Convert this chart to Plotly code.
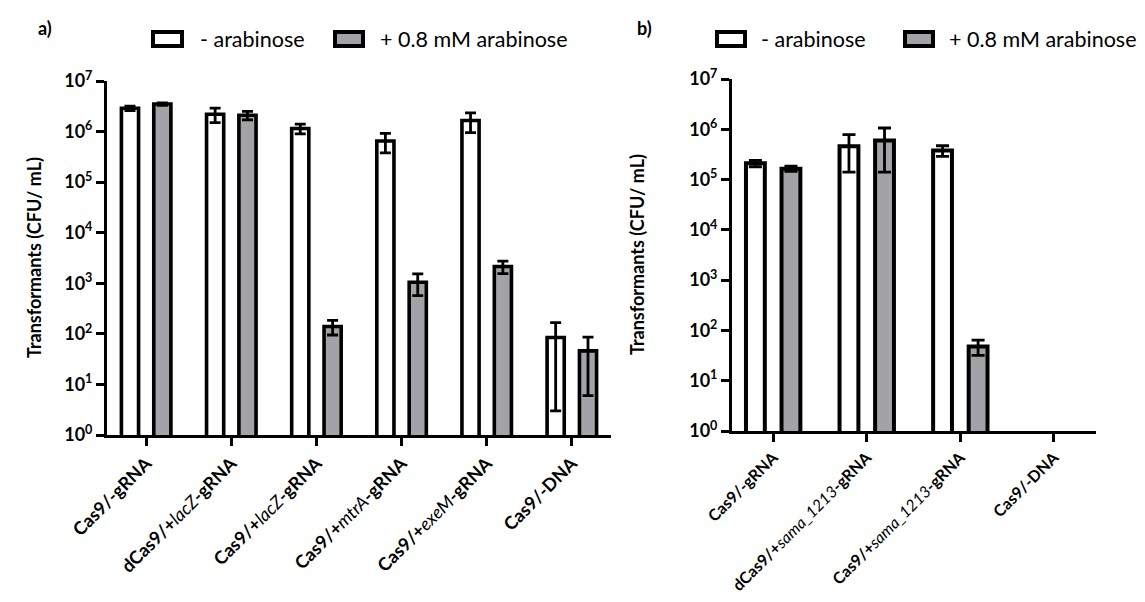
import plotly.graph_objects as go

W, H = 1145, 602

# ---- panel a data (CFU/mL, mean and SD) ----
cats_a = ["Cas9/-gRNA", "dCas9/+lacZ-gRNA", "Cas9/+lacZ-gRNA",
          "Cas9/+mtrA-gRNA", "Cas9/+exeM-gRNA", "Cas9/-DNA"]
labels_a = ["<b>Cas9/-gRNA</b>",
            "<b>dCas9/+</b><i>lacZ</i><b>-gRNA</b>",
            "<b>Cas9/+</b><i>lacZ</i><b>-gRNA</b>",
            "<b>Cas9/+</b><i>mtrA</i><b>-gRNA</b>",
            "<b>Cas9/+</b><i>exeM</i><b>-gRNA</b>",
            "<b>Cas9/-DNA</b>"]
no_ara_a = [2.9e6, 2.2e6, 1.15e6, 6.5e5, 1.65e6, 85]
no_ara_a_sd = [0.3e6, 0.7e6, 0.25e6, 2.7e5, 0.7e6, 82]
ara_a = [3.5e6, 2.1e6, 140, 1050, 2150, 46]
ara_a_sd = [0.2e6, 0.4e6, 45, 480, 600, 40]

# ---- panel b data ----
cats_b = ["Cas9/-gRNA", "dCas9/+sama_1213-gRNA", "Cas9/+sama_1213-gRNA", "Cas9/-DNA"]
labels_b = ["<b>Cas9/-gRNA</b>",
            "<b>dCas9/+</b><i>sama_1213</i><b>-gRNA</b>",
            "<b>Cas9/+</b><i>sama_1213</i><b>-gRNA</b>",
            "<b>Cas9/-DNA</b>"]
no_ara_b = [2.1e5, 4.6e5, 3.8e5, None]
no_ara_b_sd = [0.3e5, 3.2e5, 0.9e5, None]
ara_b = [1.65e5, 6.0e5, 48, None]
ara_b_sd = [0.2e5, 4.6e5, 16, None]

series_names = ["- arabinose", "+ 0.8 mM arabinose"]
decades = [1, 10, 100, 1e3, 1e4, 1e5, 1e6, 1e7]
decade_labels = ["<b>10<sup>%d</sup></b>" % i for i in range(8)]

FONT = "Lato"
GREY = "#a2a2a7"


def px_x(x):
    return x / W


def px_y(y):
    return 1 - y / H


fig = go.Figure()


def add_pair(cats, v1, e1, v2, e2, xa, ya, lw, cap):
    for vals, errs, fill, name in ((v1, e1, "white", series_names[0]),
                                   (v2, e2, GREY, series_names[1])):
        fig.add_trace(go.Bar(
            x=cats, y=vals, name=name, xaxis=xa, yaxis=ya, showlegend=False,
            marker=dict(color=fill, line=dict(color="black", width=lw)),
            error_y=dict(type="data", array=errs, visible=True,
                         color="black", thickness=2.8, width=cap),
        ))


add_pair(cats_a, no_ara_a, no_ara_a_sd, ara_a, ara_a_sd, "x", "y", 3.6, 5.5)
add_pair(cats_b, no_ara_b, no_ara_b_sd, ara_b, ara_b_sd, "x2", "y2", 4, 6.5)

xcommon = dict(type="category", showline=True, linecolor="black", linewidth=3,
               ticks="outside", ticklen=8, tickwidth=2.5, tickcolor="black",
               tickangle=-45, showgrid=False, zeroline=False,
               automargin=False)
ycommon = dict(type="log", range=[0, 7], showline=True, linecolor="black",
               linewidth=3, ticks="outside", ticklen=8, tickwidth=2.5,
               tickcolor="black", tickvals=decades, ticktext=decade_labels,
               showgrid=False, zeroline=False,
               tickfont=dict(family=FONT, size=18, color="black"),
               automargin=False)

fig.update_layout(
    width=W, height=H,
    margin=dict(l=0, r=0, t=0, b=0),
    paper_bgcolor="white", plot_bgcolor="white",
    barmode="group", bargap=0.24, bargroupgap=0.47,
    template="none",
    xaxis=dict(xcommon, domain=[px_x(107), px_x(611)], range=[-0.46, 5.46],
               tickvals=cats_a, ticktext=labels_a, anchor="y",
               tickfont=dict(family=FONT, size=18, color="black")),
    yaxis=dict(ycommon, domain=[px_y(435), px_y(81)], anchor="x"),
    xaxis2=dict(xcommon, domain=[px_x(732), px_x(1096)], range=[-0.44, 3.45],
                tickvals=cats_b, ticktext=labels_b, anchor="y2",
                tickfont=dict(family=FONT, size=16, color="black")),
    yaxis2=dict(ycommon, domain=[px_y(431), px_y(79)], anchor="x2"),
)

annotations = []
shapes = []

# y-axis titles
for tx, ty in ((21, 258), (637, 255)):
    annotations.append(dict(text="<b>Transformants (CFU/ mL)</b>", textangle=-90,
                            x=px_x(tx), y=px_y(ty), xref="paper", yref="paper",
                            showarrow=False,
                            font=dict(family=FONT, size=18, color="black")))

# panel letters
for lx, lab in ((36, "a)"), (635, "b)")):
    annotations.append(dict(text="<b>%s</b>" % lab, x=px_x(lx), y=px_y(15),
                            xref="paper", yref="paper", xanchor="left",
                            showarrow=False,
                            font=dict(family=FONT, size=18, color="black")))

# legends (box + label) above each panel
legend_rows = [
    [(153, 182, 198, "white"), (335, 363, 378, GREY)],
    [(717, 745, 759, "white"), (905, 933, 947, GREY)],
]
for row in legend_rows:
    for (bx0, bx1, tx, fill), name in zip(row, series_names):
        shapes.append(dict(type="rect", xref="paper", yref="paper",
                           x0=px_x(bx0), x1=px_x(bx1), y0=px_y(32), y1=px_y(46),
                           fillcolor=fill, line=dict(color="black", width=4)))
        annotations.append(dict(text=name, x=px_x(tx), y=px_y(39),
                                xref="paper", yref="paper", xanchor="left",
                                yanchor="middle", showarrow=False,
                                font=dict(family=FONT, size=21.5, color="black")))

fig.update_layout(annotations=annotations, shapes=shapes)

fig.write_html("out.html")
